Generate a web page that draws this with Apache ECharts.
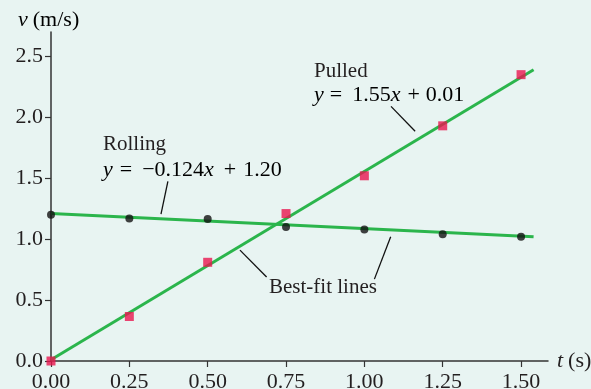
<!DOCTYPE html>
<html><head><meta charset="utf-8">
<script src="https://cdn.jsdelivr.net/npm/echarts@6/dist/echarts.min.js"></script>
<style>html,body{margin:0;padding:0;background:#e8f4f2;}#c{width:591px;height:389px;}</style>
</head><body><div id="c"></div>
<script>
// Data
const times = [0.00, 0.25, 0.50, 0.75, 1.00, 1.25, 1.50];
const rollingV = [1.20, 1.17, 1.165, 1.10, 1.08, 1.04, 1.02];
const pulledV = [0.00, 0.365, 0.81, 1.21, 1.52, 1.93, 2.35];
const fitT = [0.0, 1.54];
const rollingFit = [1.21, 1.02];
const pulledFit = [0.01, 2.39];
const xTicks = [0, 0.25, 0.5, 0.75, 1.0, 1.25, 1.5];
const yTicks = [0, 0.5, 1.0, 1.5, 2.0, 2.5];
// leader lines [x1,y1,x2,y2] in data units
const leaders = [
  [0.373, 1.475, 0.351, 1.205],
  [1.085, 2.09, 1.162, 1.885],
  [0.603, 0.91, 0.688, 0.69],
  [1.084, 1.019, 1.032, 0.672]
];

const FONT = '"Liberation Serif","DejaVu Serif",serif';
const TXT = '#231f20';
const GREEN = '#2bb54c';
const RED = '#e8174f';
const FS = 22;

const chart = echarts.init(document.getElementById('c'));
const rich = {
  i: {fontFamily: FONT, fontStyle: 'italic', fontSize: FS, color: TXT},
  n: {fontFamily: FONT, fontSize: FS, color: TXT},
  eqR: {fontFamily: FONT, fontSize: FS, color: TXT, padding:[0,10,0,7]},
  plR: {fontFamily: FONT, fontSize: FS, color: TXT, padding:[0,7,0,10]},
  eqP: {fontFamily: FONT, fontSize: FS, color: TXT, padding:[0,10,0,6]},
  plP: {fontFamily: FONT, fontSize: FS, color: TXT, padding:[0,6,0,7]},
  v: {fontFamily: FONT, fontStyle: 'italic', fontSize: FS, color: TXT, padding:[0,5,0,0]}
};
const series = [
  {type:'line', data: fitT.map((t,k)=>[t, pulledFit[k]]), symbol:'none', lineStyle:{color:GREEN,width:3}, z:2, silent:true},
  {type:'line', data: fitT.map((t,k)=>[t, rollingFit[k]]), symbol:'none', lineStyle:{color:GREEN,width:3}, z:2, silent:true},
  {type:'scatter', data: times.map((t,k)=>[t, pulledV[k]]), symbol:'rect', symbolSize:9, itemStyle:{color:RED}, z:4},
  {type:'scatter', data: times.map((t,k)=>[t, rollingV[k]]), symbol:'circle', symbolSize:8, itemStyle:{color:'#111'}, z:4}
];
leaders.forEach(l => series.push({type:'line', data:[[l[0],l[1]],[l[2],l[3]]], symbol:'none', lineStyle:{color:'#111',width:1.3}, z:3, silent:true}));

chart.setOption({
  backgroundColor: '#e8f4f2',
  animation: false,
  grid: {left:51, right:43, top:32, bottom:28, containLabel:false, outerBoundsMode:'none'},
  xAxis: {
    type:'value', min:0, max:1.586,
    name:'{v|t}{n|(s)}', nameLocation:'end', nameGap:9,
    nameTextStyle:{rich: rich, verticalAlign:'middle'},
    axisLine:{show:true, onZero:false, lineStyle:{color:'#333', width:1.5}},
    axisTick:{show:true, length:6, customValues: xTicks, lineStyle:{color:'#333', width:1.2}},
    axisLabel:{customValues: xTicks, formatter: v => v.toFixed(2), fontFamily:FONT, fontSize:FS, color:TXT, margin:10},
    splitLine:{show:false}
  },
  yAxis: {
    type:'value', min:0, max:2.7,
    axisLine:{show:true, onZero:false, lineStyle:{color:'#333', width:1.5}},
    axisTick:{show:true, length:6, customValues: yTicks, lineStyle:{color:'#333', width:1.2}},
    axisLabel:{customValues: yTicks, formatter: v => v.toFixed(1), fontFamily:FONT, fontSize:FS, color:TXT, margin:8},
    splitLine:{show:false}
  },
  graphic: [
    {type:'text', left:18, top:9, style:{text:'{v|v}{n|(m/s)}', rich: rich}},
    {type:'text', left:103, top:134, style:{text:'Rolling', font:'21px '+FONT, fill:TXT}},
    {type:'text', left:103, top:159, style:{text:'{i|y}{eqR|=}{n|−0.124}{i|x}{plR|+}{n|1.20}', rich: rich}},
    {type:'text', left:314, top:61, style:{text:'Pulled', font:'21px '+FONT, fill:TXT}},
    {type:'text', left:314, top:84, style:{text:'{i|y}{eqP|=}{n|1.55}{i|x}{plP|+}{n|0.01}', rich: rich}},
    {type:'text', left:269, top:277, style:{text:'Best-fit lines', font:'21px '+FONT, fill:TXT}}
  ],
  series: series
});
</script></body></html>
